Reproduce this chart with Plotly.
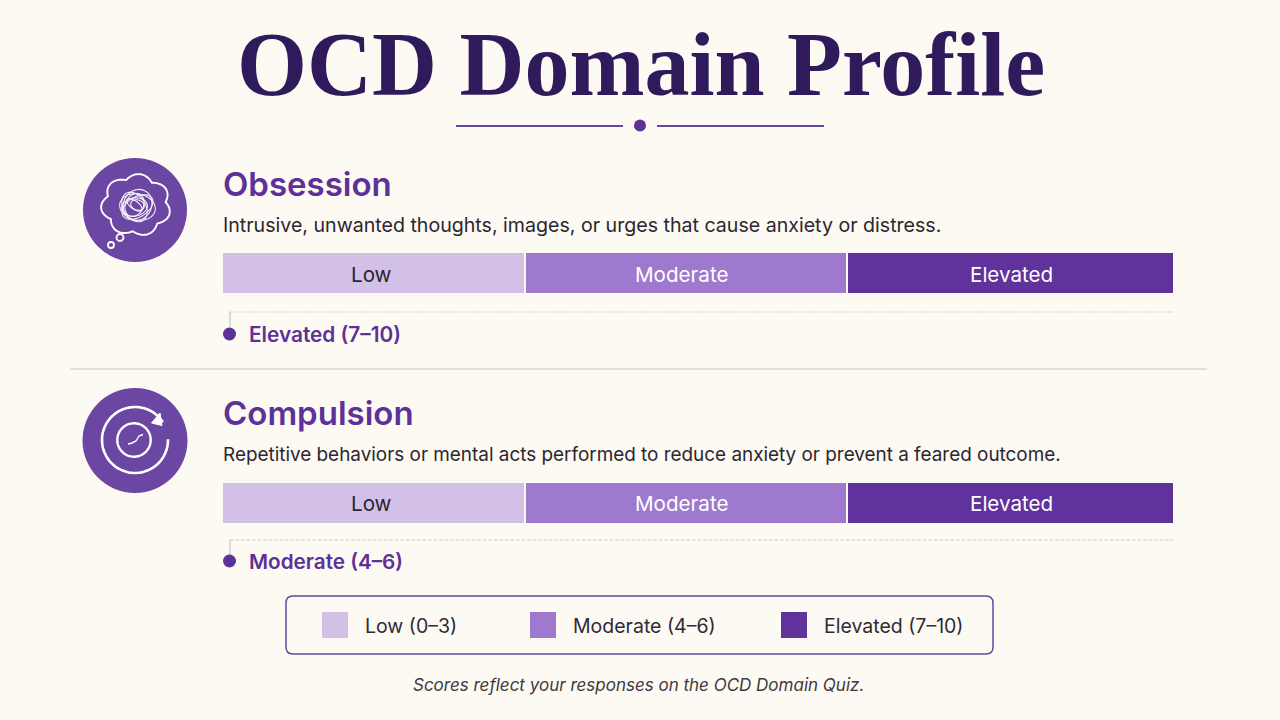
import numpy as np
import plotly.graph_objects as go

# Chart data
title = "OCD Domain Profile"
domains = ["Obsession", "Compulsion"]
descriptions = [
    "Intrusive, unwanted thoughts, images, or urges that cause anxiety or distress.",
    "Repetitive behaviors or mental acts performed to reduce anxiety or prevent a feared outcome.",
]
results = ["Elevated (7–10)", "Moderate (4–6)"]
bands = ["Low", "Moderate", "Elevated"]
band_spans = [3.18, 3.38, 3.44]
legend_labels = ["Low (0–3)", "Moderate (4–6)", "Elevated (7–10)"]
footnote = "Scores reflect your responses on the OCD Domain Quiz."

BG = "#fdf9f3"
DARK = "#2f1b5c"
PURPLE = "#5c3198"
band_colors = ["#d2c0e7", "#9e79cd", "#5f339b"]
band_text = ["#2a2433", "#ffffff", "#ffffff"]
ICON = "#6b46a3"
SANS = "Inter, Roboto, sans-serif"

fig = go.Figure()

# Stacked bars, drawn on their own axes
for i, band in enumerate(bands):
    fig.add_trace(
        go.Bar(
            y=domains,
            x=[band_spans[i]] * len(domains),
            orientation="h",
            width=0.183,
            name=band,
            marker=dict(color=band_colors[i], line=dict(color=BG, width=2)),
            xaxis="x2",
            yaxis="y2",
            showlegend=False,
            hoverinfo="skip",
        )
    )

shapes = []
annotations = []


def line(x0, y0, x1, y1, color, width=1.5, dash="solid"):
    shapes.append(
        dict(type="line", xref="x", yref="y", x0=x0, y0=y0, x1=x1, y1=y1,
             line=dict(color=color, width=width, dash=dash), layer="above")
    )


def dot(cx, cy, r, fill, outline=None, width=0):
    shapes.append(
        dict(type="circle", xref="x", yref="y", x0=cx - r, y0=cy - r, x1=cx + r, y1=cy + r,
             fillcolor=fill, line=dict(color=outline or fill, width=width), layer="above")
    )


def curve(xs, ys, color="#ffffff", width=1.5, close=False, fill=None):
    d = "M" + " L".join(f"{x:.1f},{y:.1f}" for x, y in zip(xs, ys))
    if close:
        d += " Z"
    shape = dict(type="path", xref="x", yref="y", path=d, line=dict(color=color, width=width),
                 layer="above")
    if fill:
        shape["fillcolor"] = fill
    shapes.append(shape)


def label(x, y, text, size, color, anchor="left", family=SANS, weight=400, style="normal"):
    # annotations carry about 2px of padding on the anchored side
    if anchor == "left":
        x -= 2
    annotations.append(
        dict(x=x, y=y, xref="x", yref="y", text=text, showarrow=False, xanchor=anchor,
             yanchor="middle", font=dict(family=family, size=size, color=color, weight=weight,
                                         style=style))
    )


# Title and ornament
label(641, 64, title, 90, DARK, "center", "Liberation Serif", 700)
line(456, 126, 623, 126, "#6a45a3", 2)
line(657, 126, 824, 126, "#6a45a3", 2)
dot(640, 125.5, 6, PURPLE)

# Domain text rows
row_y = [0, 229]
desc_sizes = [19.6, 18.9]
result_sizes = [20.8, 20.7]
for k, offset in enumerate(row_y):
    label(223, 184 + offset, domains[k], 33, PURPLE, weight=600)
    label(223, 225 + offset, descriptions[k], desc_sizes[k], "#2a2730")
    # dashed leader and result marker
    leader_y = 312 + offset - (1 if k else 0)
    line(230, leader_y, 1173, leader_y, "#c4bfba", 0.8, "2px,1.5px" if k == 0 else "3.5px,2px")
    line(230, leader_y, 230, leader_y + 15, "#c9c5c2", 1.2)
    dot(229.5, 334 + offset - (2 if k else 0), 6.5, PURPLE)
    label(249, 334 + offset - (2 if k else 0), results[k], result_sizes[k], PURPLE, weight=600)

# Band names on the bars
band_label_x = [371, 681.5, 1011]
for k, offset in enumerate([274, 503.5]):
    for x, band, color in zip(band_label_x, bands, band_text):
        label_x = x
        annotations.append(
            dict(x=label_x, y=offset, xref="x", yref="y", text=band, showarrow=False,
                 xanchor="center", yanchor="middle", font=dict(family=SANS, size=20.6, color=color))
        )

# Section divider
line(70, 369, 1207, 369, "#d9d6cf", 1.5)

# Obsession icon: thought cloud with a scribble
dot(135, 210, 52, ICON)
t = np.linspace(0, 2 * np.pi, 281)
r = 0.85 + 0.15 * np.abs(np.sin(3.5 * t + 0.4))
curve(136 + 35 * r * np.cos(t), 205 + 31 * r * np.sin(t), width=1.9, close=True)
dot(120, 237.5, 3.5, ICON, "#ffffff", 1.8)
dot(111, 245, 3, ICON, "#ffffff", 1.8)
scribble = [(18, 13, 0.2), (16, 11, 1.0), (14, 16, 0.5), (12, 9, 2.0), (17, 10, 2.6), (9, 13, 1.4), (7, 5, 0.3), (4, 9, 2.2)]
u = np.linspace(0, 2 * np.pi, 61)
for j, (a, b, rot) in enumerate(scribble):
    ex = a * np.cos(u)
    ey = b * np.sin(u)
    cx = 136 + (-1) ** j * 1.5
    cy = 206 + (-1) ** (j // 2) * 1
    curve(cx + ex * np.cos(rot) - ey * np.sin(rot), cy + ex * np.sin(rot) + ey * np.cos(rot),
          color="#f6f0fa", width=1.1)

# Compulsion icon: circular arrow around a dial
dot(135, 440.5, 52.5, ICON)
arc = np.linspace(-0.02, 1.82 * np.pi, 120)
curve(135 + 33 * np.cos(arc), 440 + 33 * np.sin(arc), width=2.6)
curve([160, 162, 151.5], [413, 425.5, 423], width=1, close=True, fill="#ffffff")
dial = np.linspace(0, 2 * np.pi, 80)
curve(134 + 16.7 * np.cos(dial), 440 + 16.7 * np.sin(dial), width=2.4)
curve([128, 132, 136, 139, 143], [444, 443, 441, 436, 434.5], width=1.4)

# Legend box
x0, x1, y0, y1, rad = 286, 993, 596, 654, 7
shapes.append(
    dict(type="path", xref="x", yref="y", layer="above", line=dict(color="#6a45a3", width=1.5),
         path=f"M{x0 + rad},{y0} L{x1 - rad},{y0} Q{x1},{y0} {x1},{y0 + rad} L{x1},{y1 - rad} "
              f"Q{x1},{y1} {x1 - rad},{y1} L{x0 + rad},{y1} Q{x0},{y1} {x0},{y1 - rad} "
              f"L{x0},{y0 + rad} Q{x0},{y0} {x0 + rad},{y0} Z")
)
swatch_x = [322, 530, 781]
for sx, color, text in zip(swatch_x, band_colors, legend_labels):
    shapes.append(
        dict(type="rect", xref="x", yref="y", x0=sx, x1=sx + 26, y0=612, y1=638, fillcolor=color,
             line=dict(width=0), layer="above")
    )
    label(sx + 43, 625.5, text, 19.5, "#2f2a35")

label(638, 685, footnote, 17, "#3d3a40", "center", style="italic")

fig.update_layout(
    width=1280,
    height=720,
    margin=dict(l=0, r=0, t=0, b=0),
    paper_bgcolor=BG,
    plot_bgcolor="rgba(0,0,0,0)",
    barmode="stack",
    shapes=shapes,
    annotations=annotations,
    xaxis=dict(range=[0, 1280], visible=False, fixedrange=True, domain=[0, 1]),
    yaxis=dict(range=[720, 0], visible=False, fixedrange=True, domain=[0, 1]),
    xaxis2=dict(range=[0, 10], visible=False, domain=[222 / 1280, 1174 / 1280], anchor="y2"),
    yaxis2=dict(
        type="category",
        categoryorder="array",
        categoryarray=domains[::-1],
        range=[(503 - 720) / 230, 503 / 230],
        visible=False,
        domain=[0, 1],
        anchor="x2",
    ),
)
# keep the pixel axes alive for shapes and annotations
fig.add_trace(go.Scatter(x=[0], y=[0], mode="markers", marker=dict(opacity=0), showlegend=False,
                         hoverinfo="skip"))

# the page adds an 8px body margin by default, drop it so the figure fills the window
fig.write_html(
    "out.html",
    config=dict(displayModeBar=False),
    post_script="document.body.style.margin='0';document.body.style.overflow='hidden';",
)
